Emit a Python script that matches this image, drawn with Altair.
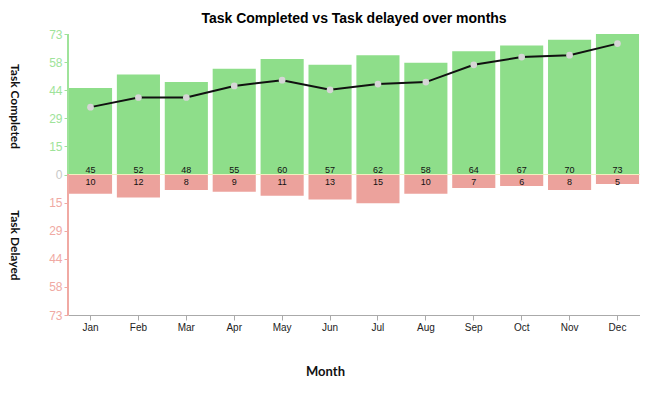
import altair as alt
import pandas as pd

months = ["Jan", "Feb", "Mar", "Apr", "May", "Jun", "Jul", "Aug", "Sep", "Oct", "Nov", "Dec"]
completed = [45, 52, 48, 55, 60, 57, 62, 58, 64, 67, 70, 73]
delayed = [10, 12, 8, 9, 11, 13, 15, 10, 7, 6, 8, 5]
net = [35, 40, 40, 46, 49, 44, 47, 48, 57, 61, 62, 68]
y_ticks = [-73, -58.4, -43.8, -29.2, -14.6, 0, 14.6, 29.2, 43.8, 58.4, 73]

GREEN = "#8ede8a"
RED = "#eca29c"
LABEL_GREEN = "#9ee39a"
LABEL_RED = "#f0a9a3"

df = pd.DataFrame({"Month": months, "Completed": completed, "Delayed": delayed, "Net": net})

FONT = "Liberation Sans"

x = alt.X(
    "Month:N",
    sort=months,
    scale=alt.Scale(paddingInner=0.1, paddingOuter=0.02),
    axis=alt.Axis(
        title="Month", labelAngle=0, titlePadding=33, titleFontSize=13, titleFontWeight="bold",
        labelFontSize=10, labelColor="#222", titleColor="#111", domainColor="#aaaaaa",
        tickColor="#aaaaaa", tickSize=5, labelFont=FONT, titleFont="Lato", titleX=257,
    ),
)
yscale = alt.Scale(domain=[-73, 73], nice=False, zero=False)

base = alt.Chart(df)

completed_bars = base.mark_bar(color=GREEN).encode(
    x=x,
    y=alt.Y(
        "Completed:Q",
        scale=yscale,
        axis=alt.Axis(
            values=y_ticks,
            labelExpr="format(abs(datum.value), '.0f')",
            labelColor={"condition": [{"test": "datum.value > 0", "value": LABEL_GREEN},
                                      {"test": "datum.value < 0", "value": LABEL_RED}],
                        "value": "#c8c8c8"},
            tickColor={"condition": {"test": "datum.value >= 0", "value": LABEL_GREEN}, "value": LABEL_RED},
            labelFontSize=12, labelFont=FONT, tickSize=4, grid=False, domain=False,
            title="Task Completed", titleAngle=90, titleX=-54, titleY=72, titleAlign="center",
            titleBaseline="middle", titleFontSize=12, titleFontWeight="bold", titleColor="#111", titleFont="Lato",
        ),
    ),
)

delayed_bars = base.transform_calculate(neg="-datum.Delayed").mark_bar(color=RED).encode(
    x=x,
    y=alt.Y(
        "neg:Q", scale=yscale,
        axis=alt.Axis(orient="left", labels=False, ticks=False, domain=False, grid=False,
                      title="Task Delayed", titleAngle=90, titleX=-54, titleY=211, titleAlign="center",
                      titleBaseline="middle", titleFontSize=12, titleFontWeight="bold", titleColor="#111",
                      titleFont="Lato"),
    ),
)

zero_rule = base.mark_rule(color="#f3efc0", strokeWidth=1).encode(
    y=alt.YDatum(0, scale=yscale, axis=None)
)

up_domain = base.mark_rule(color=LABEL_GREEN).encode(
    x=alt.value(0), y=alt.YDatum(0, scale=yscale, axis=None), y2=alt.datum(73)
)
down_domain = base.mark_rule(color=LABEL_RED).encode(
    x=alt.value(0), y=alt.YDatum(0, scale=yscale, axis=None), y2=alt.datum(-73)
)

comp_text = base.mark_text(dy=-5, fontSize=9, color="#111", font=FONT).encode(
    x=x, y=alt.YDatum(0, scale=yscale, axis=None), text="Completed:Q"
)
del_text = base.mark_text(dy=7, fontSize=9, color="#111", font=FONT).encode(
    x=x, y=alt.YDatum(0, scale=yscale, axis=None), text="Delayed:Q"
)

net_line = base.mark_line(color="#111", strokeWidth=2).encode(
    x=x, y=alt.Y("Net:Q", scale=yscale, axis=None)
)
net_points = base.mark_point(filled=True, color="#d6d6d6", opacity=1, size=45).encode(
    x=x, y=alt.Y("Net:Q", scale=yscale, axis=None)
)

chart = alt.layer(
    completed_bars, delayed_bars, zero_rule, up_domain, down_domain,
    comp_text, del_text, net_line, net_points,
).resolve_axis(y="independent").properties(
    width=572,
    height=281,
    autosize=alt.AutoSizeParams(type="none"),
    padding={"left": 60, "top": 26, "right": 0, "bottom": 68},
    title=alt.Title("Task Completed vs Task delayed over months", fontSize=14, fontWeight="bold",
                    font=FONT, offset=2, color="#000"),
).configure_view(stroke=None)

chart.save("out.html", embed_options={"renderer": "svg", "actions": False})
